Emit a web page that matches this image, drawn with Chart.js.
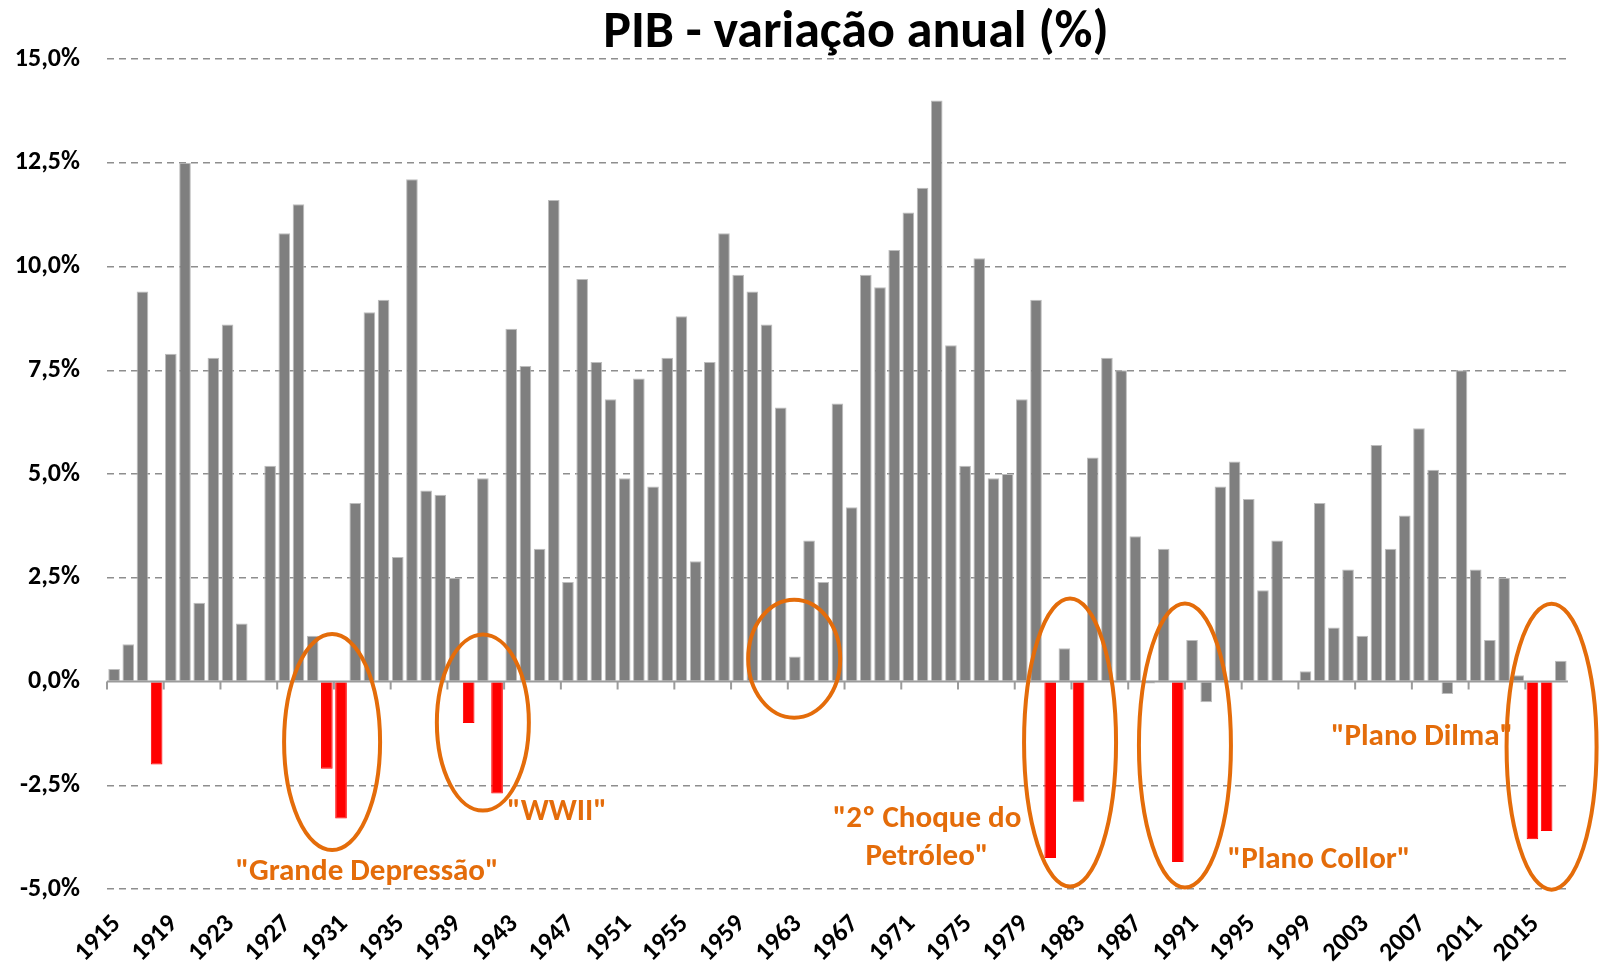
<!DOCTYPE html>
<html>
<head>
<meta charset="utf-8">
<title>PIB - variação anual (%)</title>
<script src="https://cdn.jsdelivr.net/npm/chart.js@4.4.1/dist/chart.umd.min.js"></script>
<style>
  html, body { margin: 0; padding: 0; background: #fff; }
</style>
</head>
<body>
<canvas id="pibChart" width="1603" height="963"></canvas>
<script>
// dados: variação anual do PIB, 1915-2017
var firstYear = 1915;
var pib = [
  0.3, 0.9, 9.4, -2.0, 7.9, 12.5, 1.9, 7.8, 8.6, 1.4,        // 1915-1924
  0.0, 5.2, 10.8, 11.5, 1.1, -2.1, -3.3, 4.3, 8.9, 9.2,      // 1925-1934
  3.0, 12.1, 4.6, 4.5, 2.5, -1.0, 4.9, -2.7, 8.5, 7.6,       // 1935-1944
  3.2, 11.6, 2.4, 9.7, 7.7, 6.8, 4.9, 7.3, 4.7, 7.8,         // 1945-1954
  8.8, 2.9, 7.7, 10.8, 9.8, 9.4, 8.6, 6.6, 0.6, 3.4,         // 1955-1964
  2.4, 6.7, 4.2, 9.8, 9.5, 10.4, 11.3, 11.9, 14.0, 8.1,      // 1965-1974
  5.2, 10.2, 4.9, 5.0, 6.8, 9.2, -4.25, 0.8, -2.9, 5.4,      // 1975-1984
  7.8, 7.5, 3.5, -0.05, 3.2, -4.35, 1.0, -0.5, 4.7, 5.3,     // 1985-1994
  4.4, 2.2, 3.4, 0.0, 0.25, 4.3, 1.3, 2.7, 1.1, 5.7,         // 1995-2004
  3.2, 4.0, 6.1, 5.1, -0.3, 7.5, 2.7, 1.0, 2.5, 0.15,        // 2005-2014
  -3.8, -3.6, 0.5                                            // 2015-2017
];
var redYears = [1918, 1930, 1931, 1940, 1942, 1981, 1983, 1990, 2015, 2016];
var yTicks = { min: -5, max: 15, step: 2.5 };
var labelEvery = 4;

var years = [];
for (var i = 0; i < pib.length; i++) years.push(String(firstYear + i));

// anotações (elipses em ano/valor, textos em pixels)
var ellipses = [
  { year: 1930.37, value: -1.46, rx: 48, ry: 108 },
  { year: 1941.0,  value: -0.99, rx: 46, ry: 88 },
  { year: 1962.95, value: 0.55,  rx: 46, ry: 59 },
  { year: 1982.4,  value: -1.47, rx: 46, ry: 144 },
  { year: 1990.5,  value: -1.54, rx: 46, ry: 142 },
  { year: 2016.35, value: -1.57, rx: 45, ry: 143 }
];
var notes = [
  { lines: ['"Grande Depressão"'], x: 367, y: 872 },
  { lines: ['"WWII"'], x: 557, y: 812 },
  { lines: ['"2º Choque do', 'Petróleo"'], x: 927, y: 819 },
  { lines: ['"Plano Collor"'], x: 1319, y: 860 },
  { lines: ['"Plano Dilma"'], x: 1422, y: 737 }
];

var orange = '#E46C0A';
var fam = 'Carlito, Lato, "Liberation Sans", sans-serif';
Chart.defaults.font.family = fam;

var overlay = {
  id: 'overlay',
  afterDraw: function (chart) {
    var c = chart.ctx, x = chart.scales.x, y = chart.scales.y, area = chart.chartArea;
    var step = x.getPixelForValue(1) - x.getPixelForValue(0);
    var yearPx = function (yr) { return x.getPixelForValue(0) + (yr - firstYear) * step; };
    var y0 = y.getPixelForValue(0);
    c.save();

    // eixo no zero com marcas
    c.strokeStyle = '#9b9b9b';
    c.lineWidth = 2;
    c.beginPath();
    c.moveTo(area.left, y0);
    c.lineTo(area.right, y0);
    for (var i = 0; i < years.length; i += labelEvery) {
      var tx = x.getPixelForValue(i) - step / 2;
      c.moveTo(tx, y0);
      c.lineTo(tx, y0 + 8);
    }
    c.stroke();

    // elipses
    c.strokeStyle = orange;
    c.lineWidth = 4;
    ellipses.forEach(function (e) {
      c.beginPath();
      c.ellipse(yearPx(e.year), y.getPixelForValue(e.value), e.rx, e.ry, 0, 0, Math.PI * 2);
      c.stroke();
    });

    // textos
    c.fillStyle = orange;
    c.font = 'bold 31px ' + fam;
    c.textAlign = 'center';
    c.textBaseline = 'middle';
    notes.forEach(function (n) {
      n.lines.forEach(function (ln, k) {
        c.fillText(ln, n.x, n.y + k * 38);
      });
    });

    // título
    c.fillStyle = '#000';
    c.font = 'bold 52px ' + fam;
    c.textBaseline = 'alphabetic';
    c.fillText('PIB - variação anual (%)', 856, 47);
    c.restore();
  }
};

var ctx = document.getElementById('pibChart').getContext('2d');
new Chart(ctx, {
  type: 'bar',
  data: {
    labels: years,
    datasets: [{
      label: 'PIB',
      data: pib,
      backgroundColor: years.map(function (yr) {
        return redYears.indexOf(+yr) >= 0 ? '#FF0000' : '#7F7F7F';
      }),
      borderColor: years.map(function (yr) {
        return redYears.indexOf(+yr) >= 0 ? '#FF0000' : '#BDBDBD';
      }),
      borderWidth: 1,
      barPercentage: 0.82,
      categoryPercentage: 1.0
    }]
  },
  options: {
    responsive: false,
    animation: false,
    layout: { padding: { top: 59, right: 28, bottom: 0, left: 0 } },
    plugins: {
      legend: { display: false },
      tooltip: { enabled: false },
      title: { display: false }
    },
    scales: {
      x: {
        grid: { display: false, drawTicks: false },
        border: { display: false },
        ticks: {
          autoSkip: false,
          maxRotation: 45,
          minRotation: 45,
          padding: 20,
          labelOffset: 3,
          color: '#000',
          font: { size: 26, weight: 'bold' },
          callback: function (v, i) { return i % labelEvery === 0 ? years[i] : ''; }
        },
        afterFit: function (s) { s.height = 74; }
      },
      y: {
        min: yTicks.min,
        max: yTicks.max,
        grid: {
          drawTicks: false,
          lineWidth: 1.4,
          color: function (ctx) { return ctx.tick && ctx.tick.value === 0 ? 'rgba(0,0,0,0)' : '#8E8E8E'; }
        },
        border: { display: false, dash: [7, 5] },
        ticks: {
          stepSize: yTicks.step,
          padding: 27,
          color: '#000',
          font: { size: 26, weight: 'bold' },
          callback: function (v) { return v.toFixed(1).replace('.', ',') + '%'; }
        },
        afterFit: function (s) { s.width = 107; }
      }
    }
  },
  plugins: [overlay]
});
</script>
</body>
</html>
